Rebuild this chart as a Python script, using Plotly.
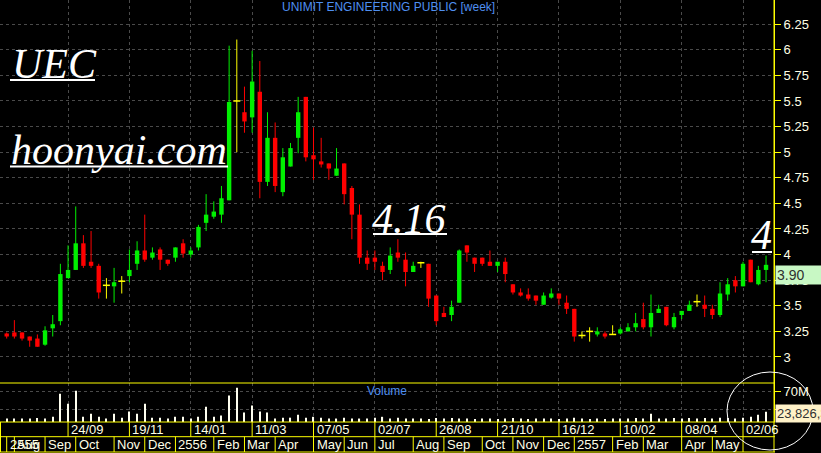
import pandas as pd
import plotly.graph_objects as go

W, H = 821, 453

# weekly candles, 30/07/2012 .. 23/06/2014 (Mondays)
week_start = pd.date_range("2012-07-30", periods=100, freq="7D")

opens = [
    3.23, 3.24, 3.24, 3.20, 3.18, 3.12, 3.28, 3.35, 3.77, 3.85,
    4.11, 3.93, 3.89, 3.70, 3.69, 3.74, 3.79, 3.91, 4.04, 3.97,
    4.05, 3.95, 3.97, 4.11, 4.00, 4.07, 4.31, 4.37, 4.39, 4.53,
    5.50, 5.39, 5.34, 5.59, 4.71, 5.14, 4.61, 4.86, 5.14, 5.54,
    4.97, 4.91, 4.89, 4.77, 4.89, 4.65, 4.39, 3.97, 3.97, 3.89,
    3.85, 4.02, 3.95, 3.83, 3.92, 3.91, 3.60, 3.43, 3.41, 3.53,
    4.09, 3.97, 3.97, 3.93, 3.89, 3.93, 3.71, 3.63, 3.61, 3.60,
    3.51, 3.58, 3.62, 3.53, 3.47, 3.21, 3.25, 3.22, 3.23, 3.22,
    3.23, 3.25, 3.29, 3.37, 3.29, 3.43, 3.49, 3.29, 3.41, 3.45,
    3.54, 3.51, 3.47, 3.41, 3.61, 3.75, 3.69, 3.95, 3.71, 3.85,
]
highs = [
    3.24, 3.36, 3.24, 3.20, 3.22, 3.30, 3.41, 3.91, 4.09, 4.47,
    4.19, 4.23, 3.91, 3.77, 3.87, 3.79, 4.05, 4.13, 4.39, 4.07,
    4.07, 3.95, 4.07, 4.15, 4.07, 4.29, 4.59, 4.52, 4.67, 6.04,
    6.10, 5.64, 5.99, 5.89, 5.39, 5.29, 5.04, 5.09, 5.54, 5.54,
    5.24, 5.14, 4.89, 5.04, 4.89, 4.67, 4.49, 4.04, 4.04, 3.93,
    4.07, 4.15, 4.02, 3.93, 3.93, 3.91, 3.60, 3.49, 3.55, 4.05,
    4.09, 3.97, 3.97, 4.04, 3.93, 3.97, 3.71, 3.67, 3.67, 3.60,
    3.63, 3.67, 3.62, 3.60, 3.47, 3.25, 3.29, 3.29, 3.25, 3.31,
    3.29, 3.33, 3.43, 3.53, 3.61, 3.51, 3.49, 3.43, 3.45, 3.55,
    3.61, 3.60, 3.51, 3.73, 3.77, 3.79, 3.93, 3.95, 3.89, 3.99,
]
lows = [
    3.18, 3.18, 3.16, 3.10, 3.10, 3.11, 3.20, 3.31, 3.77, 3.85,
    3.87, 3.87, 3.57, 3.57, 3.53, 3.62, 3.73, 3.85, 3.93, 3.95,
    3.85, 3.89, 3.93, 3.97, 3.97, 4.04, 4.23, 4.35, 4.31, 4.53,
    5.00, 5.19, 5.19, 4.55, 4.67, 4.61, 4.57, 4.86, 4.99, 4.91,
    4.73, 4.85, 4.73, 4.77, 4.49, 4.15, 3.91, 3.85, 3.85, 3.75,
    3.81, 3.93, 3.69, 3.83, 3.87, 3.49, 3.31, 3.39, 3.35, 3.53,
    3.93, 3.83, 3.89, 3.89, 3.83, 3.73, 3.61, 3.59, 3.55, 3.51,
    3.51, 3.57, 3.51, 3.42, 3.15, 3.18, 3.15, 3.20, 3.18, 3.22,
    3.22, 3.25, 3.25, 3.27, 3.20, 3.43, 3.30, 3.27, 3.37, 3.45,
    3.49, 3.39, 3.37, 3.39, 3.55, 3.63, 3.69, 3.73, 3.70, 3.73,
]
closes = [
    3.20, 3.20, 3.18, 3.16, 3.10, 3.26, 3.32, 3.81, 3.85, 4.11,
    3.89, 3.89, 3.63, 3.70, 3.73, 3.74, 3.85, 4.04, 3.95, 4.02,
    3.95, 3.91, 4.07, 4.01, 4.04, 4.27, 4.39, 4.42, 4.55, 5.49,
    5.50, 5.30, 5.69, 4.71, 5.14, 4.67, 4.95, 5.04, 5.39, 4.95,
    4.93, 4.88, 4.84, 4.84, 4.59, 4.39, 3.97, 3.91, 3.93, 3.83,
    3.99, 3.97, 3.83, 3.89, 3.92, 3.57, 3.35, 3.39, 3.49, 4.04,
    4.02, 3.91, 3.91, 3.89, 3.93, 3.81, 3.63, 3.60, 3.57, 3.55,
    3.60, 3.62, 3.57, 3.47, 3.20, 3.21, 3.25, 3.25, 3.20, 3.22,
    3.27, 3.29, 3.33, 3.29, 3.43, 3.47, 3.31, 3.39, 3.45, 3.51,
    3.54, 3.47, 3.41, 3.62, 3.71, 3.69, 3.91, 3.73, 3.85, 3.90,
]
# volume in millions of shares
volume_m = [
    8, 8, 8, 8, 9, 8, 12, 65, 42, 72,
    12, 19, 12, 8, 19, 10, 24, 19, 42, 10,
    10, 8, 12, 12, 8, 12, 35, 12, 15, 61,
    79, 22, 38, 24, 22, 8, 10, 10, 17, 10,
    12, 10, 8, 8, 10, 8, 8, 8, 10, 12,
    8, 10, 8, 8, 8, 7, 9, 8, 9, 8,
    8, 7, 8, 8, 7, 8, 9, 8, 7, 8,
    8, 8, 7, 8, 10, 8, 7, 8, 7, 8,
    8, 8, 9, 8, 19, 8, 8, 9, 8, 9,
    8, 9, 8, 10, 9, 8, 10, 12, 17, 23.8263,
]

date_tick_days = ["2012-09-24", "2012-11-19", "2013-01-14", "2013-03-11", "2013-05-06", "2013-07-01",
                  "2013-08-26", "2013-10-21", "2013-12-16", "2014-02-10", "2014-04-07", "2014-06-02"]
date_tick_text = ["24/09", "19/11", "14/01", "11/03", "07/05", "02/07",
                  "26/08", "21/10", "16/12", "10/02", "08/04", "02/06"]

month_start_days = ["2012-07-30", "2012-08-06", "2012-09-03", "2012-10-01", "2012-11-05", "2012-12-03",
                    "2012-12-31", "2013-02-04", "2013-03-04", "2013-04-01", "2013-05-06", "2013-06-03",
                    "2013-07-01", "2013-08-05", "2013-09-02", "2013-10-07", "2013-11-04", "2013-12-02",
                    "2013-12-30", "2014-02-03", "2014-03-03", "2014-04-07", "2014-05-05", "2014-06-02"]
month_text = ["2555", "Aug", "Sep", "Oct", "Nov", "Dec",
              "2556", "Feb", "Mar", "Apr", "May", "Jun",
              "Jul", "Aug", "Sep", "Oct", "Nov", "Dec",
              "2557", "Feb", "Mar", "Apr", "May", ""]

price_ticks = [3, 3.25, 3.5, 3.75, 4, 4.25, 4.5, 4.75, 5, 5.25, 5.5, 5.75, 6, 6.25]
price_tick_text = ["3", "3.25", "3.5", "3.75", "4", "4.25", "4.5", "4.75", "5", "5.25", "5.5", "5.75", "6", "6.25"]
volume_ticks = [30e6, 70e6]
volume_tick_text = ["30M", "70M"]

GREEN = "#00f000"
RED = "#ff0000"
DOJI = "#ffff00"
YELLOW = "#ffff00"
GRID = "#4a4a4a"
LABEL = "#ffffe6"
BLUE = "#4f8ff0"
DAY_MS = 86400000


def px_x(x):
    return x / W


def px_y(y):
    return 1 - y / H


fig = go.Figure()

groups = [
    (GREEN, [i for i in range(len(opens)) if closes[i] > opens[i]]),
    (RED, [i for i in range(len(opens)) if closes[i] < opens[i]]),
]
for color, idx in groups:
    wx, wy = [], []
    for i in idx:
        wx += [week_start[i], week_start[i], None]
        wy += [lows[i], highs[i], None]
    fig.add_trace(go.Scatter(x=wx, y=wy, mode="lines", line=dict(color=color, width=1),
                             hoverinfo="skip", showlegend=False))
    fig.add_trace(go.Bar(
        x=[week_start[i] for i in idx],
        base=[min(opens[i], closes[i]) for i in idx],
        y=[abs(closes[i] - opens[i]) for i in idx],
        width=4 * DAY_MS,
        marker=dict(color=color, line=dict(width=0)),
        showlegend=False,
    ))

doji_idx = [i for i in range(len(opens)) if closes[i] == opens[i]]
dx, dy = [], []
for i in doji_idx:
    dx += [week_start[i], week_start[i], None]
    dy += [lows[i], highs[i], None]
fig.add_trace(go.Scatter(x=dx, y=dy, mode="lines", line=dict(color=DOJI, width=1),
                         hoverinfo="skip", showlegend=False))
fig.add_trace(go.Scatter(
    x=[week_start[i] for i in doji_idx], y=[closes[i] for i in doji_idx], mode="markers",
    marker=dict(symbol="line-ew", size=5, line=dict(color=DOJI, width=1.5)),
    showlegend=False,
))

fig.add_trace(go.Bar(
    x=week_start, y=[v * 1e6 for v in volume_m], width=1 * DAY_MS,
    marker=dict(color="#fffff0", line=dict(width=0)),
    xaxis="x2", yaxis="y2", showlegend=False,
))

x_range = ["2012-07-23 21:14", "2014-06-30 06:15"]
xcommon = dict(type="date", range=x_range, domain=[0, px_x(774)], tickvals=date_tick_days,
               showticklabels=False, ticks="", showgrid=True, gridcolor=GRID, griddash="3px,3px",
               gridwidth=1, zeroline=False, showline=False, automargin=False, fixedrange=True)
tickfont = dict(family="Liberation Sans, Arial, sans-serif", size=13, color=LABEL)

fig.update_layout(
    template="none",
    width=W, height=H,
    margin=dict(l=0, r=0, t=0, b=0),
    paper_bgcolor="black", plot_bgcolor="black",
    barmode="overlay",
    showlegend=False,
    xaxis=dict(anchor="y", **xcommon),
    xaxis2=dict(anchor="y2", matches="x", **xcommon),
    yaxis=dict(domain=[px_y(383), 1], range=[2.746, 6.486], side="right", anchor="x",
               tickvals=price_ticks, ticktext=price_tick_text, ticks="outside", ticklen=6,
               tickcolor=YELLOW, showline=True, linecolor=YELLOW, linewidth=1,
               showgrid=True, gridcolor=GRID, griddash="3px,3px", zeroline=False,
               tickfont=tickfont, automargin=False, fixedrange=True),
    yaxis2=dict(domain=[px_y(422), px_y(383)], range=[0, 90.1e6], side="right", anchor="x2",
                tickvals=volume_ticks, ticktext=volume_tick_text, ticks="outside", ticklen=6,
                tickcolor=YELLOW, showline=True, linecolor=YELLOW, linewidth=1,
                showgrid=True, gridcolor=GRID, griddash="3px,3px", zeroline=False,
                tickfont=tickfont, automargin=False, fixedrange=True),
)

shapes = []
# panel frame lines
for y in [383, 422, 436.7, 452]:
    shapes.append(dict(type="line", xref="paper", yref="paper", x0=0, x1=px_x(775),
                       y0=px_y(y), y1=px_y(y), line=dict(color=YELLOW, width=1)))
shapes.append(dict(type="line", xref="paper", yref="paper", x0=px_x(774), x1=px_x(774),
                   y0=px_y(0), y1=px_y(452), line=dict(color=YELLOW, width=1)))
shapes.append(dict(type="line", xref="paper", yref="paper", x0=px_x(0.5), x1=px_x(0.5),
                   y0=px_y(422), y1=px_y(452), line=dict(color=YELLOW, width=1)))
for d in date_tick_days:
    shapes.append(dict(type="line", xref="x", yref="paper", x0=d, x1=d,
                       y0=px_y(422), y1=px_y(436.7), line=dict(color=YELLOW, width=1)))
for d in month_start_days:
    shapes.append(dict(type="line", xref="x", yref="paper", x0=d, x1=d,
                       y0=px_y(436.7), y1=px_y(452), line=dict(color=YELLOW, width=1)))
# underlines of the overlay texts
for x0, x1, y in [(10, 95, 80), (10, 228, 166.5), (373, 447, 234), (752, 772, 252)]:
    shapes.append(dict(type="line", xref="paper", yref="paper", x0=px_x(x0), x1=px_x(x1),
                       y0=px_y(y), y1=px_y(y), line=dict(color="white", width=2)))
shapes.append(dict(type="circle", xref="paper", yref="paper", x0=px_x(727), x1=px_x(813),
                   y0=px_y(450), y1=px_y(372), line=dict(color="white", width=1)))

annotations = []
annotations.append(dict(text="UNIMIT ENGINEERING PUBLIC [week]", xref="paper", yref="paper",
                        x=px_x(388), y=px_y(7), xanchor="center", yanchor="middle", showarrow=False,
                        font=dict(family="Liberation Sans, Arial, sans-serif", size=12, color=BLUE)))
annotations.append(dict(text="Volume", xref="paper", yref="paper", x=px_x(387), y=px_y(391),
                        xanchor="center", yanchor="middle", showarrow=False,
                        font=dict(family="Liberation Sans, Arial, sans-serif", size=12, color=BLUE)))
serif = dict(family="Liberation Serif, Times New Roman, serif", size=42, color="white")
for txt, x, y in [("UEC", 10, 64), ("hoonyai.com", 9, 150), ("4.16", 370, 219), ("4", 749, 235)]:
    annotations.append(dict(text="<i>" + txt + "</i>", xref="paper", yref="paper", x=px_x(x), y=px_y(y),
                            xanchor="left", yanchor="middle", showarrow=False, font=serif))
for d, t in zip(date_tick_days, date_tick_text):
    annotations.append(dict(text=t, xref="x", yref="paper", x=d, y=px_y(429.5), xanchor="left",
                            yanchor="middle", xshift=1, showarrow=False, font=tickfont))
for d, t in zip(month_start_days, month_text):
    if t:
        annotations.append(dict(text=t, xref="x", yref="paper", x=d, y=px_y(444.5), xanchor="left",
                                yanchor="middle", xshift=1, showarrow=False, font=tickfont))
annotations.append(dict(text="%.2f" % closes[-1], xref="paper", yref="y", x=px_x(774.5), y=closes[-1],
                        xanchor="left", yanchor="top", showarrow=False, bgcolor="#c8f8c4",
                        width=44, align="left", borderpad=1,
                        font=dict(family="Liberation Sans, Arial, sans-serif", size=14, color="#303030")))
annotations.append(dict(text="{:,.0f}".format(volume_m[-1] * 1e6)[:8], xref="paper", yref="y2",
                        x=px_x(774.5), y=volume_m[-1] * 1e6, xanchor="left", yanchor="middle", yshift=-2,
                        showarrow=False, bgcolor="#fff2c8", width=56, align="left", borderpad=1,
                        font=dict(family="Liberation Sans, Arial, sans-serif", size=13, color="#303030")))

fig.update_layout(shapes=shapes, annotations=annotations)
fig.write_html("out.html", config={"displayModeBar": False},
               post_script="document.body.style.margin='0';")
